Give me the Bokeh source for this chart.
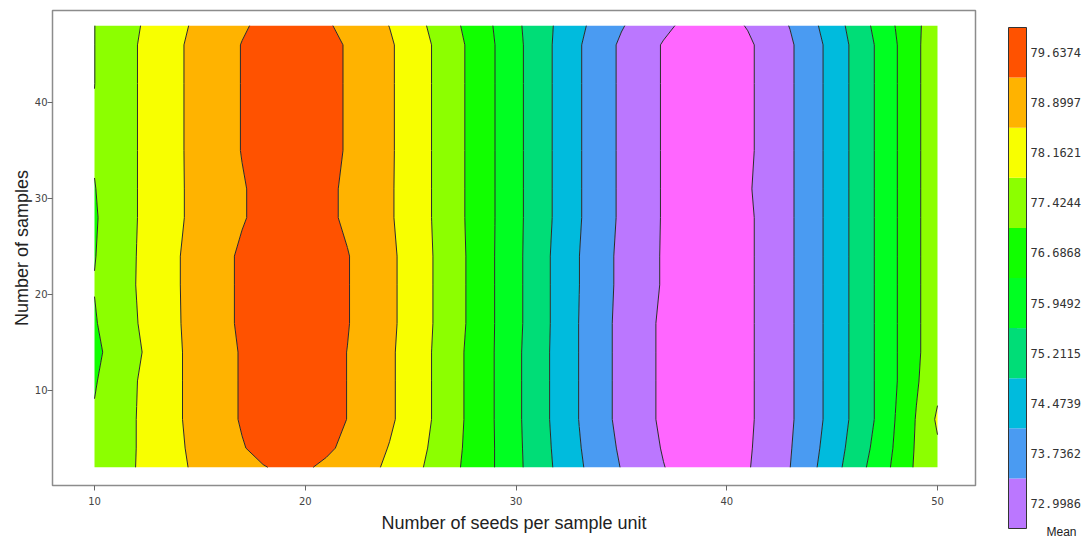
import numpy as np
from bokeh.plotting import figure
from bokeh.layouts import row
from bokeh.models import Range1d, FixedTicker
from bokeh.core.properties import value
from bokeh.embed import file_html
from bokeh.resources import INLINE

# ---------------- data ----------------
seeds = list(range(10, 51))                      # x: number of seeds per sample unit
samples = [2, 4, 7, 11, 14, 17, 21, 24, 28, 31, 35, 42, 46, 48]   # y: number of samples

mean_y2 = [77.15, 77.48, 77.81, 78.12, 78.43, 78.66, 78.85, 79.04, 79.24, 79.37, 79.34, 79.15, 78.92, 78.69, 78.41, 78.03, 77.64, 77.22, 76.77, 76.31, 75.76, 75.23, 74.71, 74.20, 73.76, 73.34, 72.99, 72.65, 72.38, 72.28, 72.35, 72.58, 72.96, 73.36, 73.93, 74.54, 75.18, 75.82, 76.47, 77.17, 77.50]
mean_y4 = [77.15, 77.47, 77.80, 78.12, 78.45, 78.72, 78.96, 79.23, 79.44, 79.54, 79.52, 79.38, 79.12, 78.81, 78.50, 78.10, 77.72, 77.27, 76.80, 76.31, 75.75, 75.20, 74.67, 74.15, 73.68, 73.27, 72.92, 72.58, 72.34, 72.25, 72.33, 72.55, 72.92, 73.32, 73.86, 74.45, 75.08, 75.70, 76.40, 77.14, 77.70]
mean_y7 = [77.12, 77.46, 77.80, 78.12, 78.48, 78.77, 79.05, 79.32, 79.52, 79.62, 79.60, 79.48, 79.26, 78.95, 78.64, 78.24, 77.79, 77.32, 76.82, 76.30, 75.73, 75.17, 74.62, 74.09, 73.60, 73.19, 72.84, 72.51, 72.29, 72.22, 72.30, 72.52, 72.88, 73.27, 73.78, 74.35, 74.97, 75.58, 76.33, 77.10, 77.90]
mean_y11 = [77.00, 77.40, 77.78, 78.12, 78.48, 78.77, 79.05, 79.32, 79.52, 79.62, 79.60, 79.48, 79.26, 78.95, 78.64, 78.24, 77.79, 77.32, 76.82, 76.30, 75.73, 75.17, 74.62, 74.09, 73.60, 73.19, 72.84, 72.51, 72.29, 72.22, 72.30, 72.52, 72.88, 73.27, 73.78, 74.35, 74.97, 75.58, 76.25, 76.98, 77.60]
mean_y14 = [76.90, 77.30, 77.69, 78.09, 78.48, 78.77, 79.05, 79.32, 79.52, 79.62, 79.60, 79.48, 79.26, 78.95, 78.64, 78.24, 77.79, 77.32, 76.82, 76.30, 75.73, 75.17, 74.62, 74.09, 73.60, 73.19, 72.84, 72.51, 72.29, 72.22, 72.30, 72.52, 72.88, 73.27, 73.78, 74.35, 74.97, 75.58, 76.25, 76.98, 77.35]
mean_y17 = [77.00, 77.40, 77.77, 78.14, 78.50, 78.80, 79.09, 79.37, 79.56, 79.65, 79.64, 79.52, 79.30, 78.99, 78.67, 78.28, 77.82, 77.36, 76.87, 76.31, 75.76, 75.20, 74.63, 74.09, 73.60, 73.19, 72.84, 72.51, 72.29, 72.22, 72.30, 72.52, 72.88, 73.27, 73.78, 74.35, 74.97, 75.58, 76.25, 76.98, 77.35]
mean_y21 = [77.08, 77.43, 77.81, 78.16, 78.51, 78.80, 79.09, 79.37, 79.56, 79.65, 79.64, 79.52, 79.30, 78.99, 78.67, 78.28, 77.82, 77.36, 76.87, 76.31, 75.76, 75.20, 74.63, 74.11, 73.63, 73.22, 72.90, 72.57, 72.34, 72.26, 72.32, 72.52, 72.88, 73.27, 73.78, 74.35, 74.97, 75.58, 76.25, 76.98, 77.35]
mean_y24 = [77.03, 77.40, 77.80, 78.16, 78.51, 78.80, 79.09, 79.37, 79.56, 79.65, 79.64, 79.52, 79.30, 78.99, 78.67, 78.28, 77.82, 77.36, 76.87, 76.31, 75.76, 75.20, 74.63, 74.11, 73.63, 73.22, 72.90, 72.57, 72.34, 72.26, 72.32, 72.52, 72.88, 73.27, 73.78, 74.35, 74.97, 75.58, 76.25, 76.98, 77.35]
mean_y28 = [76.99, 77.38, 77.78, 78.12, 78.46, 78.73, 78.97, 79.22, 79.44, 79.55, 79.54, 79.41, 79.16, 78.89, 78.61, 78.23, 77.79, 77.33, 76.85, 76.32, 75.77, 75.23, 74.69, 74.16, 73.69, 73.26, 72.92, 72.58, 72.34, 72.24, 72.30, 72.52, 72.88, 73.27, 73.78, 74.35, 74.97, 75.58, 76.25, 76.98, 77.35]
mean_y31 = [77.03, 77.42, 77.78, 78.12, 78.46, 78.73, 78.97, 79.22, 79.44, 79.55, 79.54, 79.41, 79.16, 78.89, 78.61, 78.23, 77.79, 77.33, 76.85, 76.32, 75.77, 75.23, 74.69, 74.16, 73.69, 73.26, 72.92, 72.58, 72.34, 72.24, 72.30, 72.57, 72.88, 73.27, 73.78, 74.35, 74.97, 75.58, 76.25, 76.98, 77.35]
mean_y35 = [77.12, 77.46, 77.78, 78.12, 78.46, 78.75, 79.01, 79.29, 79.54, 79.66, 79.64, 79.49, 79.21, 78.92, 78.62, 78.23, 77.79, 77.33, 76.85, 76.32, 75.77, 75.23, 74.69, 74.16, 73.69, 73.26, 72.92, 72.58, 72.34, 72.24, 72.30, 72.52, 72.88, 73.27, 73.78, 74.35, 74.97, 75.58, 76.25, 76.98, 77.35]
mean_y42 = [77.05, 77.42, 77.78, 78.12, 78.46, 78.75, 79.01, 79.29, 79.54, 79.66, 79.64, 79.49, 79.21, 78.92, 78.62, 78.23, 77.79, 77.33, 76.85, 76.32, 75.77, 75.23, 74.69, 74.16, 73.69, 73.26, 72.92, 72.58, 72.34, 72.24, 72.30, 72.52, 72.88, 73.27, 73.78, 74.35, 74.97, 75.58, 76.25, 76.98, 77.35]
mean_y46 = [77.05, 77.42, 77.78, 78.12, 78.46, 78.75, 79.01, 79.29, 79.54, 79.66, 79.64, 79.49, 79.21, 78.92, 78.62, 78.23, 77.79, 77.33, 76.85, 76.32, 75.77, 75.23, 74.69, 74.16, 73.69, 73.26, 72.92, 72.58, 72.34, 72.24, 72.30, 72.52, 72.88, 73.27, 73.78, 74.35, 74.97, 75.58, 76.25, 76.98, 77.35]
mean_y48 = [77.05, 77.39, 77.73, 78.07, 78.40, 78.68, 78.93, 79.19, 79.41, 79.52, 79.50, 79.35, 79.09, 78.80, 78.52, 78.11, 77.69, 77.23, 76.76, 76.27, 75.72, 75.22, 74.73, 74.25, 73.82, 73.42, 73.09, 72.78, 72.50, 72.37, 72.43, 72.67, 73.03, 73.39, 73.91, 74.47, 75.07, 75.69, 76.33, 76.98, 77.30]

mean_rows = [mean_y2, mean_y4, mean_y7, mean_y11, mean_y14, mean_y17, mean_y21,
             mean_y24, mean_y28, mean_y31, mean_y35, mean_y42, mean_y46, mean_y48]

# contour level boundaries (band edges) and legend labels (band centres)
level_bounds = [71.9, 72.6298, 73.3674, 74.1051, 74.8427, 75.5804, 76.3180,
                77.0556, 77.7933, 78.5309, 79.2686, 80.2]
legend_labels = ["72.9986", "73.7362", "74.4739", "75.2115", "75.9492",
                 "76.6868", "77.4244", "78.1621", "78.8997", "79.6374"]
band_colors = ["#FF66FF", "#BB77FF", "#4A9BF2", "#00BBDD", "#00DD77", "#00FF22",
               "#11FF00", "#8CFF00", "#F8FF00", "#FFB300", "#FF5200"]

x_ticks = [10, 20, 30, 40, 50]
y_ticks = [10, 20, 30, 40]

# ---------------- main contour plot ----------------
p = figure(width=990, height=540,
           x_range=Range1d(8.007, 51.803), y_range=Range1d(0.104, 49.583),
           output_backend="svg", toolbar_location=None,
           min_border_left=52, min_border_right=15, min_border_top=10, min_border_bottom=55)

p.contour(x=np.array(seeds, dtype=float), y=np.array(samples, dtype=float),
          z=np.array(mean_rows), levels=level_bounds,
          fill_color=band_colors, line_color="#2a2a2a", line_width=1)

p.grid.visible = False
p.outline_line_color = "#8c8c8c"
p.outline_line_width = 1.5
p.xaxis.ticker = FixedTicker(ticks=x_ticks)
p.yaxis.ticker = FixedTicker(ticks=y_ticks)
p.axis.minor_tick_line_color = None
p.axis.axis_line_color = "#8c8c8c"
p.axis.major_tick_line_color = "#666666"
p.axis.major_tick_out = 5
p.axis.major_tick_in = 0
p.axis.major_label_text_font = "DejaVu Sans"
p.axis.major_label_text_font_size = "10px"
p.axis.major_label_text_color = "#444444"
p.yaxis.major_label_standoff = 0
p.xaxis.major_label_standoff = 6
p.xaxis.axis_label = "Number of seeds per sample unit"
p.yaxis.axis_label = "Number of samples"
p.axis.axis_label_text_font = "Liberation Sans"
p.axis.axis_label_text_font_size = "18px"
p.axis.axis_label_text_font_style = "normal"
p.axis.axis_label_text_color = "#222222"
p.yaxis.axis_label_standoff = 0
p.xaxis.axis_label_standoff = 5

# ---------------- colour bar (its own small figure) ----------------
n_bands = len(legend_labels)
cb_w, cb_h = 92, 540
bar_left_px, bar_w_px = 18, 18
bar_top_px, bar_bot_px = 27, 528
unit_px = (bar_bot_px - bar_top_px) / n_bands

cb = figure(width=cb_w, height=cb_h,
            x_range=Range1d(-bar_left_px / bar_w_px, (cb_w - bar_left_px) / bar_w_px),
            y_range=Range1d(-(cb_h - bar_bot_px) / unit_px, n_bands + bar_top_px / unit_px),
            output_backend="svg", toolbar_location=None,
            x_axis_location=None, y_axis_location=None,
            min_border_left=0, min_border_right=0, min_border_top=0, min_border_bottom=0)
cb.grid.visible = False
cb.outline_line_color = None

band_index = list(range(n_bands))
centres = [i + 0.5 for i in band_index]
cb.quad(left=0, right=1, bottom=band_index, top=[i + 1 for i in band_index],
        fill_color=band_colors[1:], line_color=None)
cb.quad(left=[0], right=[1], bottom=[0], top=[n_bands],
        fill_color=None, line_color="#333333", line_width=1)
cb.text(x=[1 + 4 / bar_w_px] * n_bands, y=centres, text=legend_labels,
        text_font=value("DejaVu Sans Mono"), text_font_size="12px",
        text_color="#333333", text_baseline="middle", text_align="left")
cb.text(x=[(1061 - 1008) / bar_w_px], y=[-(538 - bar_bot_px) / unit_px], text=["Mean"],
        text_font=value("Liberation Sans"), text_font_size="12px",
        text_color="#222222", text_baseline="bottom", text_align="center")

for fig in (p, cb):
    if "frame_align" in fig.properties():
        fig.frame_align = False

layout = row(p, cb)
open("out.html", "w").write(file_html(layout, INLINE))
